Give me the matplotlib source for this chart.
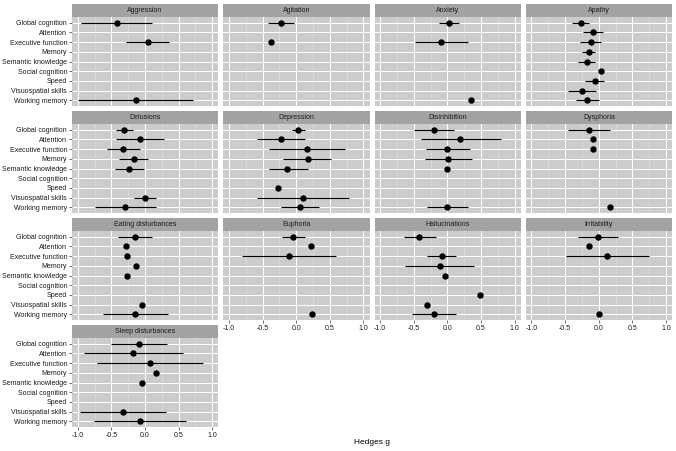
import numpy as np
import matplotlib
matplotlib.use("Agg")
import matplotlib.pyplot as plt

plt.rcParams['font.family'] = ['Liberation Sans', 'DejaVu Sans']
plt.rcParams['axes.unicode_minus'] = False

nan = np.nan

domains = ["Global cognition", "Attention", "Executive function", "Memory",
           "Semantic knowledge", "Social cognition", "Speed",
           "Visuospatial skills", "Working memory"]

symptoms = ["Aggression", "Agitation", "Anxiety", "Apathy",
            "Delusions", "Depression", "Disinhibition", "Dysphoria",
            "Eating disturbances", "Euphoria", "Hallucinations", "Irritability",
            "Sleep disturbances"]

# Hedges g estimates and 95% CI per symptom (order of `domains`)
aggression_g  = [-0.42, nan, 0.04, nan, nan, nan, nan, nan, -0.13]
aggression_lo = [-0.95, nan, -0.28, nan, nan, nan, nan, nan, -0.99]
aggression_hi = [0.11, nan, 0.36, nan, nan, nan, nan, nan, 0.72]

agitation_g  = [-0.23, nan, -0.38, nan, nan, nan, nan, nan, nan]
agitation_lo = [-0.42, nan, nan, nan, nan, nan, nan, nan, nan]
agitation_hi = [-0.04, nan, nan, nan, nan, nan, nan, nan, nan]

anxiety_g  = [0.02, nan, -0.09, nan, nan, nan, nan, nan, 0.35]
anxiety_lo = [-0.13, nan, -0.48, nan, nan, nan, nan, nan, nan]
anxiety_hi = [0.17, nan, 0.30, nan, nan, nan, nan, nan, nan]

apathy_g  = [-0.27, -0.09, -0.12, -0.15, -0.18, 0.03, -0.06, -0.25, -0.17]
apathy_lo = [-0.40, -0.24, -0.28, -0.25, -0.31, nan, -0.20, -0.46, -0.34]
apathy_hi = [-0.14, 0.06, 0.03, -0.06, -0.05, nan, 0.08, -0.04, 0.00]

delusions_g  = [-0.31, -0.07, -0.32, -0.17, -0.24, nan, nan, 0.00, -0.29]
delusions_lo = [-0.43, -0.43, -0.57, -0.38, -0.44, nan, nan, -0.17, -0.75]
delusions_hi = [-0.18, 0.28, -0.07, 0.05, -0.02, nan, nan, 0.16, 0.16]

depression_g  = [0.03, -0.23, 0.155, 0.17, -0.13, nan, -0.27, 0.10, 0.05]
depression_lo = [-0.06, -0.58, -0.40, -0.19, -0.41, nan, nan, -0.58, -0.23]
depression_hi = [0.13, 0.13, 0.72, 0.52, 0.17, nan, nan, 0.79, 0.34]

disinhibition_g  = [-0.20, 0.19, 0.00, 0.01, 0.00, nan, nan, nan, 0.00]
disinhibition_lo = [-0.50, -0.40, -0.32, -0.34, nan, nan, nan, nan, -0.30]
disinhibition_hi = [0.09, 0.79, 0.33, 0.37, nan, nan, nan, nan, 0.31]

dysphoria_g  = [-0.15, -0.09, -0.09, nan, nan, nan, nan, nan, 0.17]
dysphoria_lo = [-0.46, nan, nan, nan, nan, nan, nan, nan, nan]
dysphoria_hi = [0.17, nan, nan, nan, nan, nan, nan, nan, nan]

eating_g  = [-0.15, -0.28, -0.26, -0.14, -0.26, nan, nan, -0.04, -0.15]
eating_lo = [-0.40, nan, nan, nan, nan, nan, nan, nan, -0.63]
eating_hi = [0.10, nan, nan, nan, nan, nan, nan, nan, 0.34]

euphoria_g  = [-0.045, 0.22, -0.11, nan, nan, nan, nan, nan, 0.23]
euphoria_lo = [-0.21, nan, -0.81, nan, nan, nan, nan, nan, nan]
euphoria_hi = [0.13, nan, 0.59, nan, nan, nan, nan, nan, nan]

hallucinations_g  = [-0.42, nan, -0.08, -0.11, -0.03, nan, 0.49, -0.31, -0.20]
hallucinations_lo = [-0.65, nan, -0.30, -0.63, nan, nan, nan, nan, -0.53]
hallucinations_hi = [-0.17, nan, 0.13, 0.40, nan, nan, nan, nan, 0.12]

irritability_g  = [-0.01, -0.14, 0.13, nan, nan, nan, nan, nan, 0.00]
irritability_lo = [-0.31, nan, -0.49, nan, nan, nan, nan, nan, nan]
irritability_hi = [0.28, nan, 0.75, nan, nan, nan, nan, nan, nan]

sleep_g  = [-0.09, -0.18, 0.07, 0.16, -0.05, nan, nan, -0.32, -0.08]
sleep_lo = [-0.51, -0.90, -0.72, nan, nan, nan, nan, -0.96, -0.76]
sleep_hi = [0.33, 0.56, 0.87, nan, nan, nan, nan, 0.32, 0.61]

panel_data = [
    (aggression_g, aggression_lo, aggression_hi),
    (agitation_g, agitation_lo, agitation_hi),
    (anxiety_g, anxiety_lo, anxiety_hi),
    (apathy_g, apathy_lo, apathy_hi),
    (delusions_g, delusions_lo, delusions_hi),
    (depression_g, depression_lo, depression_hi),
    (disinhibition_g, disinhibition_lo, disinhibition_hi),
    (dysphoria_g, dysphoria_lo, dysphoria_hi),
    (eating_g, eating_lo, eating_hi),
    (euphoria_g, euphoria_lo, euphoria_hi),
    (hallucinations_g, hallucinations_lo, hallucinations_hi),
    (irritability_g, irritability_lo, irritability_hi),
    (sleep_g, sleep_lo, sleep_hi),
]

x_ticks = [-1.0, -0.5, 0.0, 0.5, 1.0]
x_tick_labels = ["-1.0", "-0.5", "0.0", "0.5", "1.0"]

W, H = 676, 451
fig = plt.figure(figsize=(W / 100, H / 100), dpi=100)
fig.patch.set_facecolor("white")

panel_bg = "#CCCCCC"
strip_bg = "#A3A3A3"
txt_col = "#1A1A1A"

left0 = 72
pw = 146.25
gap = 5
strip_h = 13
ph = 89
row_step = 107
top0 = 4

ncol = 4
n = len(symptoms)
ypos = np.arange(len(domains))[::-1] + 1  # Global cognition at top

for i, name in enumerate(symptoms):
    r, c = divmod(i, ncol)
    x0 = left0 + c * (pw + gap)
    st = top0 + r * row_step
    pt = st + strip_h
    ax = fig.add_axes([x0 / W, 1 - (pt + ph) / H, pw / W, ph / H])
    sax = fig.add_axes([x0 / W, 1 - pt / H, pw / W, strip_h / H])
    sax.set_facecolor(strip_bg)
    sax.set_xticks([]); sax.set_yticks([])
    for s in sax.spines.values():
        s.set_visible(False)
    sax.text(0.5, 0.5, name, ha="center", va="center", fontsize=5,
             color=txt_col, transform=sax.transAxes)

    ax.set_facecolor(panel_bg)
    for s in ax.spines.values():
        s.set_visible(False)
    ax.set_xlim(-1.085, 1.09)
    ax.set_ylim(0.4, len(domains) + 0.6)
    ax.set_xticks(x_ticks)
    ax.set_xticks([-0.75, -0.25, 0.25, 0.75], minor=True)
    ax.set_yticks(ypos)
    ax.set_axisbelow(True)
    ax.grid(True, which="major", color="white", linewidth=0.75)
    ax.grid(True, which="minor", axis="x", color="#E4E4E4", linewidth=0.4)

    # bottom-most panel in each column gets x labels
    bottom_most = (i + ncol) >= n
    ax.tick_params(axis="x", which="minor", length=0)
    ax.tick_params(axis="both", which="major", length=2, width=0.5,
                   color="#333333", labelsize=5, labelcolor=txt_col, pad=1.5)
    if bottom_most:
        ax.set_xticklabels(x_tick_labels)
    else:
        ax.tick_params(axis="x", which="major", length=0, labelbottom=False)
    if c == 0:
        ax.set_yticklabels(domains)
    else:
        ax.tick_params(axis="y", length=0, labelleft=False)

    g, lo, hi = panel_data[i]
    g = np.array(g, dtype=float)
    lo = np.array(lo, dtype=float)
    hi = np.array(hi, dtype=float)
    m = ~np.isnan(lo) & ~np.isnan(hi)
    ax.hlines(ypos[m], lo[m], hi[m], color="black", linewidth=0.8, zorder=3)
    mg = ~np.isnan(g)
    ax.plot(g[mg], ypos[mg], "o", color="black", markersize=3.6, zorder=4)

fig.text((left0 + (4 * pw + 3 * gap) / 2) / W, 1 - 443 / H, "Hedges g",
         ha="center", va="center", fontsize=6, color="black")

fig.savefig("out.png", dpi=100, facecolor="white")
